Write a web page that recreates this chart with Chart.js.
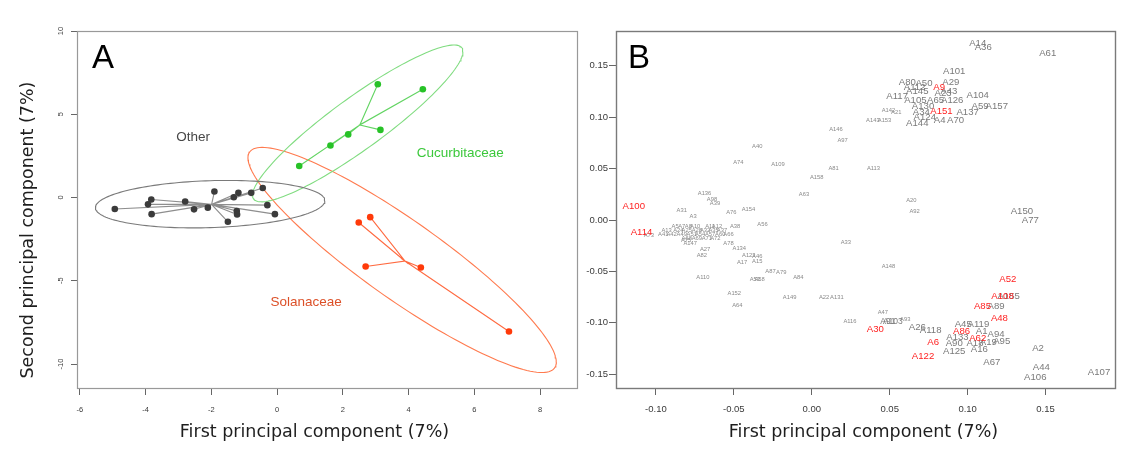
<!DOCTYPE html>
<html>
<head>
<meta charset="utf-8">
<script src="https://cdn.jsdelivr.net/npm/chart.js@4.4.1/dist/chart.umd.min.js"></script>
<style>
  html, body { margin: 0; padding: 0; background: #fff; }
  #lienzo { position: relative; width: 1126px; height: 451px; overflow: hidden; }
  .panel { position: absolute; top: 0; height: 451px; }
  #panel-a { left: 0; width: 583px; }
  #panel-b { left: 583px; width: 543px; }
</style>
</head>
<body>
<div id="lienzo">
  <div class="panel" id="panel-a"><canvas id="chart-a"></canvas></div>
  <div class="panel" id="panel-b"><canvas id="chart-b"></canvas></div>
</div>
<script>
'use strict';

// ─── Datos panel A: componentes principales por familia ──────────────────────

const grupos = ['Other', 'Cucurbitaceae', 'Solanaceae'];

const otherX  = [-4.94, -3.83, -3.93, -3.82, -2.80, -2.53, -2.11, -1.91, -1.50, -1.32, -1.18, -1.23, -1.22, -0.79, -0.44, -0.30, -0.07];
const otherY  = [-0.69, -0.12, -0.41, -1.00, -0.24, -0.71, -0.61,  0.36, -1.46,  0.02,  0.28, -0.81, -1.02,  0.28,  0.57, -0.46, -1.00];
const cucurbX = [0.67, 1.62, 2.16, 3.06, 4.43, 3.14];
const cucurbY = [1.89, 3.12, 3.79, 6.80, 6.50, 4.06];
const solanX  = [2.48, 2.83, 2.69, 4.37, 7.05];
const solanY  = [-1.50, -1.18, -4.14, -4.20, -8.05];

// elipses: centro + semidiametro hacia el extremo derecho + semicuerda vertical
const elipseCx = [-2.04, 2.45, 3.80];
const elipseCy = [-0.40, 4.45, -3.75];
const elipseAx = [3.49, 3.20, 4.69];
const elipseAy = [0.21, 4.31, -6.13];
const elipseBy = [1.41, 1.90, 2.85];

// donde va el nombre de cada grupo
const rotuloX = [-2.56, 5.57, 0.88];
const rotuloY = [3.60, 2.66, -6.27];

const ticksAX = [-6, -4, -2, 0, 2, 4, 6, 8];
const ticksAY = [-10, -5, 0, 5, 10];

// ─── Datos panel B: cargas de cada accesion ──────────────────────────────────

const chicasNom = ['A143','A153','A142','A21','A113','A146','A97','A40','A74','A109','A81','A158','A63','A20','A92',
  'A136','A98','A39','A31','A3','A76','A154','A56','A38','A147','A27','A82','A78','A134','A123','A46','A17','A15',
  'A33','A87','A79','A84','A110','A53','A58','A152','A149','A22','A131','A64','A148','A116','A47','A93',
  'A5','A7','A8','A10','A11','A12','A13','A24','A25','A28','A32','A35','A37','A41','A42','A49','A51','A54',
  'A57','A60','A66','A68','A69','A71','A72','A73','A75'];
const chicasX = [0.0392, 0.0467, 0.0492, 0.0542, 0.0396, 0.0155, 0.0198, -0.0350, -0.0471, -0.0217, 0.0140, 0.0032, -0.0050, 0.0639, 0.0660,
  -0.0688, -0.0640, -0.0621, -0.0834, -0.0761, -0.0516, -0.0406, -0.0316, -0.0492, -0.0780, -0.0684, -0.0705, -0.0534, -0.0465, -0.0404, -0.0350, -0.0447, -0.0350,
  0.0219, -0.0265, -0.0196, -0.0086, -0.0699, -0.0365, -0.0335, -0.0497, -0.0142, 0.0079, 0.0161, -0.0477, 0.0492, 0.0245, 0.0456, 0.0600,
  -0.0877, -0.0834, -0.0792, -0.0748, -0.0652, -0.0608, -0.0931, -0.0856, -0.0802, -0.0737, -0.0684, -0.0630, -0.0576, -0.0953, -0.0899, -0.0834, -0.0770, -0.0716,
  -0.0652, -0.0587, -0.0534, -0.0802, -0.0737, -0.0673, -0.0619, -0.1045, -0.0806];
const chicasY = [0.0968, 0.0968, 0.1065, 0.1046, 0.0500, 0.0877, 0.0773, 0.0715, 0.0562, 0.0539, 0.0500, 0.0412, 0.0253, 0.0188, 0.0085,
  0.0260, 0.0205, 0.0166, 0.0091, 0.0032, 0.0078, 0.0104, -0.0046, -0.0065, -0.0228, -0.0286, -0.0341, -0.0228, -0.0273, -0.0341, -0.0357, -0.0412, -0.0406,
  -0.0217, -0.0497, -0.0507, -0.0559, -0.0556, -0.0575, -0.0575, -0.0715, -0.0757, -0.0748, -0.0748, -0.0828, -0.0455, -0.0984, -0.0903, -0.0968,
  -0.0058, -0.0058, -0.0058, -0.0058, -0.0058, -0.0058, -0.0097, -0.0097, -0.0097, -0.0097, -0.0097, -0.0097, -0.0097, -0.0136, -0.0136, -0.0136, -0.0136, -0.0136,
  -0.0136, -0.0136, -0.0136, -0.0178, -0.0178, -0.0178, -0.0178, -0.0146, -0.0195];

const medianasNom = ['A91', 'A103'];
const medianasX   = [0.0488, 0.0520];
const medianasY   = [-0.0991, -0.0991];

const grandesNom = ['A14','A36','A61','A101','A80','A50','A29','A112','A145','A43','A23','A104','A117','A105','A65','A126',
  'A59','A157','A130','A137','A34','A124','A4','A70','A144','A150','A77','A155','A89','A119','A45','A1','A94','A95',
  'A133','A90','A18','A19','A125','A16','A67','A2','A44','A106','A107','A26','A118'];
const grandesX = [0.1065, 0.1100, 0.1514, 0.0914, 0.0613, 0.0720, 0.0892, 0.0660, 0.0677, 0.0880, 0.0843, 0.1065, 0.0548, 0.0665, 0.0794, 0.0901,
  0.1080, 0.1187, 0.0714, 0.1000, 0.0703, 0.0725, 0.0821, 0.0923, 0.0677, 0.1348, 0.1402, 0.1263, 0.1183, 0.1069, 0.0972, 0.1090, 0.1183, 0.1219,
  0.0935, 0.0914, 0.1047, 0.1133, 0.0914, 0.1075, 0.1155, 0.1452, 0.1473, 0.1434, 0.1843, 0.0677, 0.0763];
const grandesY = [0.1715, 0.1680, 0.1618, 0.1450, 0.1340, 0.1330, 0.1340, 0.1290, 0.1248, 0.1248, 0.1228, 0.1215, 0.1202, 0.1163, 0.1163, 0.1163,
  0.1110, 0.1110, 0.1110, 0.1046, 0.1046, 0.1001, 0.0968, 0.0968, 0.0942, 0.0081, 0.0000, -0.0747, -0.0835, -0.1017, -0.1017, -0.1079, -0.1114, -0.1179,
  -0.1137, -0.1196, -0.1202, -0.1186, -0.1277, -0.1260, -0.1387, -0.1248, -0.1430, -0.1527, -0.1479, -0.1040, -0.1072];

const rojasNom = ['A9','A151','A100','A114','A52','A108','A85','A48','A86','A62','A6','A122','A30'];
const rojasX   = [0.0817, 0.0832, -0.1142, -0.1092, 0.1258, 0.1224, 0.1095, 0.1204, 0.0961, 0.1065, 0.0779, 0.0714, 0.0408];
const rojasY   = [0.1293, 0.1053, 0.0136, -0.0120, -0.0575, -0.0747, -0.0835, -0.0952, -0.1079, -0.1153, -0.1192, -0.1322, -0.1062];

const ticksBX = [-0.10, -0.05, 0.00, 0.05, 0.10, 0.15];
const ticksBY = [-0.15, -0.10, -0.05, 0.00, 0.05, 0.10, 0.15];

// ─── Paleta ───────────────────────────────────────────────────────────────────

const C = {
  puntos:  ['#3b3b3b', '#27c227', '#ff3a0a'],
  lineas:  ['#8e8e8e', '#62d462', '#ff6a40'],
  elipses: ['#7a7a7a', '#80dc80', '#ff7a4e'],
  rotulos: ['#474747', '#3cc83c', '#dc5028'],
  gris:    '#7a7a7a',
  grisChico: '#8a8a8a',
  rojo:    '#ff1f1f',
  ticks:   '#3a3a3a',
};

const FUENTE = "'Liberation Sans', Arial, sans-serif";
Chart.defaults.font.family = FUENTE;
Chart.defaults.animation = false;

// ─── Helpers ─────────────────────────────────────────────────────────────────

function pares(xs, ys) {
  return xs.map(function(x, i) { return { x: x, y: ys[i] }; });
}

function media(v) {
  return v.reduce(function(s, a) { return s + a; }, 0) / v.length;
}

// segmentos desde el centroide hasta cada punto (ida y vuelta)
function estrella(xs, ys) {
  const c = { x: media(xs), y: media(ys) };
  const out = [];
  xs.forEach(function(x, i) { out.push(c, { x: x, y: ys[i] }); });
  out.push(c);
  return out;
}

function contornoElipse(i) {
  const pts = [];
  for (let k = 0; k <= 160; k++) {
    const t = k / 160 * 2 * Math.PI;
    pts.push({
      x: elipseCx[i] + elipseAx[i] * Math.cos(t),
      y: elipseCy[i] + elipseAy[i] * Math.cos(t) + elipseBy[i] * Math.sin(t),
    });
  }
  return pts;
}

function fijarTicks(valores) {
  return function(scale) { scale.ticks = valores.map(function(v) { return { value: v }; }); };
}

// ─── Plugins comunes ─────────────────────────────────────────────────────────

const marco = {
  id: 'marco',
  beforeDatasetsDraw(chart, args, opts) {
    const { ctx, chartArea: a } = chart;
    ctx.save();
    ctx.strokeStyle = opts.color;
    ctx.lineWidth = opts.ancho;
    ctx.strokeRect(a.left + 0.5, a.top + 0.5, a.width - 1, a.height - 1);
    ctx.restore();
  },
};

const titulos = {
  id: 'titulos',
  afterDraw(chart, args, opts) {
    const { ctx, chartArea: a } = chart;
    ctx.save();
    ctx.fillStyle = '#1e1e1e';
    ctx.font = "17.5px 'DejaVu Sans', sans-serif";
    ctx.textAlign = 'center';
    ctx.textBaseline = 'middle';
    if (opts.x) ctx.fillText(opts.x, a.left + a.width * opts.xCentro, opts.xFila);
    if (opts.y) {
      ctx.translate(opts.yColumna, a.top + a.height * opts.yCentro);
      ctx.rotate(-Math.PI / 2);
      ctx.fillText(opts.y, 0, 0);
    }
    ctx.restore();
    // letra del panel
    ctx.save();
    ctx.fillStyle = '#000';
    ctx.font = '33px ' + FUENTE;
    ctx.textBaseline = 'alphabetic';
    ctx.fillText(opts.letra, a.left + opts.letraDx, a.top + 37);
    ctx.restore();
  },
};

// ─── Panel A ─────────────────────────────────────────────────────────────────

const rotulosGrupo = {
  id: 'rotulosGrupo',
  afterDatasetsDraw(chart) {
    const { ctx, scales: { x, y } } = chart;
    ctx.save();
    ctx.font = '13.5px ' + FUENTE;
    ctx.textAlign = 'center';
    ctx.textBaseline = 'middle';
    grupos.forEach(function(g, i) {
      ctx.fillStyle = C.rotulos[i];
      ctx.fillText(g, x.getPixelForValue(rotuloX[i]), y.getPixelForValue(rotuloY[i]));
    });
    ctx.restore();
  },
};

function initPanelA() {
  const xs = [otherX, cucurbX, solanX];
  const ys = [otherY, cucurbY, solanY];
  const datasets = [];

  grupos.forEach(function(g, i) {
    datasets.push({
      label: g,
      data: pares(xs[i], ys[i]),
      pointRadius: 3.3,
      pointBackgroundColor: C.puntos[i],
      pointBorderWidth: 0,
      order: 0,
    });
  });
  grupos.forEach(function(g, i) {
    datasets.push({
      label: g + ' centroide',
      data: estrella(xs[i], ys[i]),
      showLine: true,
      borderColor: C.lineas[i],
      borderWidth: 1.1,
      pointRadius: 0,
      order: 1,
    });
  });
  grupos.forEach(function(g, i) {
    datasets.push({
      label: g + ' elipse',
      data: contornoElipse(i),
      showLine: true,
      borderColor: C.elipses[i],
      borderWidth: 1.1,
      pointRadius: 0,
      order: 2,
    });
  });

  return new Chart(document.getElementById('chart-a').getContext('2d'), {
    type: 'scatter',
    data: { datasets: datasets },
    options: {
      responsive: true,
      maintainAspectRatio: false,
      layout: { padding: { top: 31, right: 5, left: 0, bottom: 0 } },
      plugins: {
        legend: { display: false },
        tooltip: { enabled: false },
        marco: { color: '#999', ancho: 1.2 },
        titulos: {
          x: 'First principal component (7%)', xCentro: 0.474, xFila: 432,
          y: 'Second principal component (7%)', yCentro: 0.556, yColumna: 28,
          letra: 'A', letraDx: 15,
        },
      },
      scales: {
        x: {
          type: 'linear', min: -6.09, max: 9.15,
          afterBuildTicks: fijarTicks(ticksAX),
          afterFit: function(s) { s.height = 62; },
          border: { display: false },
          grid: { drawOnChartArea: false, tickLength: 6, color: '#666' },
          ticks: { color: C.ticks, font: { size: 7.5 }, padding: 10, maxRotation: 0,
                   callback: function(v) { return String(v); } },
        },
        y: {
          type: 'linear', min: -11.5, max: 10,
          afterBuildTicks: fijarTicks(ticksAY),
          afterFit: function(s) { s.width = 77; },
          border: { display: false },
          grid: { drawOnChartArea: false, tickLength: 6, color: '#666' },
          ticks: { color: C.ticks, font: { size: 7.5 }, padding: 5, minRotation: 90, maxRotation: 90,
                   crossAlign: 'center', callback: function(v) { return String(v); } },
        },
      },
    },
    plugins: [marco, rotulosGrupo, titulos],
  });
}

// ─── Panel B ─────────────────────────────────────────────────────────────────

const etiquetasB = {
  id: 'etiquetasB',
  afterDatasetsDraw(chart) {
    const ctx = chart.ctx;
    ctx.save();
    ctx.textAlign = 'center';
    ctx.textBaseline = 'middle';
    chart.data.datasets.forEach(function(ds, i) {
      const meta = chart.getDatasetMeta(i);
      ctx.font = ds.fuente + 'px ' + FUENTE;
      ctx.fillStyle = ds.colorTexto;
      meta.data.forEach(function(el, j) { ctx.fillText(ds.etiquetas[j], el.x, el.y); });
    });
    ctx.restore();
  },
};

function fmtB(v) {
  if (Math.abs(v) < 1e-9) v = 0;
  return v.toFixed(2);
}

function initPanelB() {
  const grupo = function(nombres, xs, ys, fuente, color) {
    return { data: pares(xs, ys), etiquetas: nombres, fuente: fuente, colorTexto: color, pointRadius: 0 };
  };

  return new Chart(document.getElementById('chart-b').getContext('2d'), {
    type: 'scatter',
    data: { datasets: [
      grupo(chicasNom, chicasX, chicasY, 5.8, C.grisChico),
      grupo(medianasNom, medianasX, medianasY, 8.5, C.gris),
      grupo(grandesNom, grandesX, grandesY, 9.6, C.gris),
      grupo(rojasNom, rojasX, rojasY, 9.6, C.rojo),
    ]},
    options: {
      responsive: true,
      maintainAspectRatio: false,
      layout: { padding: { top: 31, right: 10, left: 0, bottom: 0 } },
      plugins: {
        legend: { display: false },
        tooltip: { enabled: false },
        marco: { color: '#7a7a7a', ancho: 1.4 },
        titulos: { x: 'First principal component (7%)', xCentro: 0.495, xFila: 432, letra: 'B', letraDx: 12 },
      },
      scales: {
        x: {
          type: 'linear', min: -0.1256, max: 0.1952,
          afterBuildTicks: fijarTicks(ticksBX),
          afterFit: function(s) { s.height = 62; },
          border: { display: false },
          grid: { drawOnChartArea: false, tickLength: 6, color: '#666' },
          ticks: { color: C.ticks, font: { size: 9.5 }, padding: 9, maxRotation: 0, callback: fmtB },
        },
        y: {
          type: 'linear', min: -0.1644, max: 0.1839,
          afterBuildTicks: fijarTicks(ticksBY),
          afterFit: function(s) { s.width = 33; },
          border: { display: false },
          grid: { drawOnChartArea: false, tickLength: 7, color: '#666' },
          ticks: { color: C.ticks, font: { size: 9.5 }, padding: 1, callback: fmtB },
        },
      },
    },
    plugins: [marco, etiquetasB, titulos],
  });
}

// ─── Arranque ─────────────────────────────────────────────────────────────────

initPanelA();
initPanelB();
</script>
</body>
</html>
